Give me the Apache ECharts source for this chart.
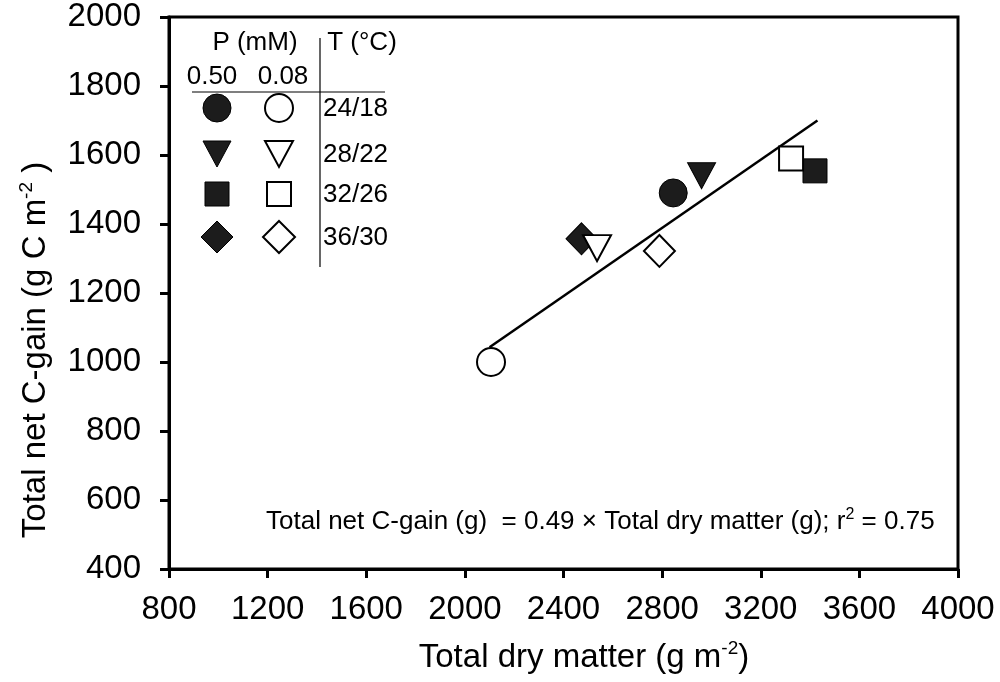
<!DOCTYPE html>
<html>
<head>
<meta charset="utf-8">
<script src="https://cdn.jsdelivr.net/npm/echarts@6/dist/echarts.min.js"></script>
<style>
  html, body { margin: 0; padding: 0; background: #fff; }
  #chart { width: 1000px; height: 682px; }
</style>
</head>
<body>
<div id="chart"></div>
<script>
// temperature regimes (day/night, °C) and marker shapes
const temps = ["24/18", "28/22", "32/26", "36/30"];
const shapes = ["circle", "triangle", "rect", "diamond"];

// P = 0.50 mM (filled markers)
const dryHighP = [2845, 2960, 3420, 2473];
const gainHighP = [1490, 1540, 1554, 1357];

// P = 0.08 mM (open markers)
const dryLowP = [2106, 2536, 3323, 2789];
const gainLowP = [1000, 1330, 1590, 1322];

// regression line end points
const fitX = [2100, 3430];
const fitY = [1043, 1700];

const FONT = "Liberation Sans, Arial, sans-serif";
const FILL = "#1c1c1c";

function symbolSize(shape) {
  if (shape === "circle") return 28;
  if (shape === "triangle") return [28, 26];
  if (shape === "rect") return 24;
  return [31, 32];
}

const series = [
  {
    type: "line",
    data: fitX.map((x, i) => [x, fitY[i]]),
    showSymbol: false,
    lineStyle: { color: "#000", width: 2.5 },
    z: 1,
  },
];

temps.forEach((t, i) => {
  series.push({
    type: "scatter",
    name: "0.50 " + t,
    data: [[dryHighP[i], gainHighP[i]]],
    symbol: shapes[i],
    symbolRotate: shapes[i] === "triangle" ? 180 : 0,
    symbolSize: symbolSize(shapes[i]),
    itemStyle: { color: FILL, borderColor: "#000", borderWidth: 1, opacity: 1 },
    z: 3,
  });
});
temps.forEach((t, i) => {
  series.push({
    type: "scatter",
    name: "0.08 " + t,
    data: [[dryLowP[i], gainLowP[i]]],
    symbol: shapes[i],
    symbolRotate: shapes[i] === "triangle" ? 180 : 0,
    symbolSize: symbolSize(shapes[i]),
    itemStyle: { color: "#fff", borderColor: "#000", borderWidth: 2, opacity: 1 },
    z: 4,
  });
});

// legend table (drawn as graphics)
const legX = [217, 279];
const legRows = [108, 154, 194, 237];
const LEGFONT = "26px " + FONT;
const legend = [];
function legendMark(shape, cx, cy, filled) {
  const style = filled
    ? { fill: FILL, stroke: "#000", lineWidth: 1 }
    : { fill: "#fff", stroke: "#000", lineWidth: 2 };
  if (shape === "circle") return { type: "circle", shape: { cx: cx, cy: cy, r: 14 }, style: style };
  if (shape === "rect") return { type: "rect", shape: { x: cx - 12, y: cy - 12, width: 24, height: 24 }, style: style };
  if (shape === "triangle")
    return { type: "polygon", shape: { points: [[cx - 14, cy - 13], [cx + 14, cy - 13], [cx, cy + 13]] }, style: style };
  return { type: "polygon", shape: { points: [[cx, cy - 16], [cx + 16, cy], [cx, cy + 16], [cx - 16, cy]] }, style: style };
}
temps.forEach((t, i) => {
  legend.push(legendMark(shapes[i], legX[0], legRows[i], true));
  legend.push(legendMark(shapes[i], legX[1], legRows[i], false));
  legend.push({
    type: "text", x: 323, y: legRows[i] + 1,
    style: { text: t, font: LEGFONT, fill: "#000", align: "left", verticalAlign: "middle" },
  });
});
legend.push(
  { type: "text", x: 255, y: 43, style: { text: "P (mM)", font: LEGFONT, fill: "#000", align: "center", verticalAlign: "middle" } },
  { type: "text", x: 362, y: 43, style: { text: "T (°C)", font: LEGFONT, fill: "#000", align: "center", verticalAlign: "middle" } },
  { type: "text", x: 212, y: 77, style: { text: "0.50", font: LEGFONT, fill: "#000", align: "center", verticalAlign: "middle" } },
  { type: "text", x: 283, y: 77, style: { text: "0.08", font: LEGFONT, fill: "#000", align: "center", verticalAlign: "middle" } },
  { type: "line", shape: { x1: 192, y1: 92, x2: 385, y2: 92 }, style: { stroke: "#000", lineWidth: 1.2 } },
  { type: "line", shape: { x1: 320, y1: 38, x2: 320, y2: 267 }, style: { stroke: "#000", lineWidth: 1.2 } }
);

const supRich = {
  m: { fontSize: 33, fontFamily: FONT, color: "#000", lineHeight: 38 },
  s: { fontSize: 19, fontFamily: FONT, color: "#000", lineHeight: 19, verticalAlign: "top" },
};
const eqRich = {
  m: { fontSize: 26, fontFamily: FONT, color: "#000", lineHeight: 30 },
  s: { fontSize: 16, fontFamily: FONT, color: "#000", lineHeight: 15, verticalAlign: "top" },
};

const chart = echarts.init(document.getElementById("chart"));
chart.setOption({
  animation: false,
  backgroundColor: "#fff",
  grid: {
    left: 169, right: 42, top: 17, bottom: 113,
    show: true, borderColor: "#000", borderWidth: 3, backgroundColor: "transparent",
  },
  xAxis: {
    type: "value", min: 800, max: 4000, interval: 400,
    axisLine: { show: true, lineStyle: { color: "#000", width: 3 } },
    axisTick: { show: true, length: 9, lineStyle: { color: "#000", width: 3 } },
    axisLabel: { color: "#000", fontSize: 33, fontFamily: FONT, margin: 24, formatter: (v) => String(v) },
    splitLine: { show: false },
  },
  yAxis: {
    type: "value", min: 400, max: 2000, interval: 200,
    axisLine: { show: true, lineStyle: { color: "#000", width: 3 } },
    axisTick: { show: true, length: 9, lineStyle: { color: "#000", width: 3 } },
    axisLabel: { color: "#000", fontSize: 33, fontFamily: FONT, margin: 28, formatter: (v) => String(v) },
    splitLine: { show: false },
  },
  series: series,
  graphic: legend.concat([
    {
      type: "text", x: 584, y: 658,
      style: {
        text: "{m|Total dry matter (g m}{s|-2}{m|)}", rich: supRich,
        align: "center", verticalAlign: "middle",
      },
    },
    {
      type: "text", x: 36, y: 350, rotation: Math.PI / 2,
      style: {
        text: "{m|Total net C-gain (g C m}{s|-2}{m| )}", rich: supRich,
        align: "center", verticalAlign: "middle",
      },
    },
    {
      type: "text", x: 266, y: 522,
      style: {
        text: "{m|Total net C-gain (g)  = 0.49 × Total dry matter (g); r}{s|2}{m| = 0.75}", rich: eqRich,
        align: "left", verticalAlign: "middle",
      },
    },
  ]),
});
</script>
</body>
</html>
